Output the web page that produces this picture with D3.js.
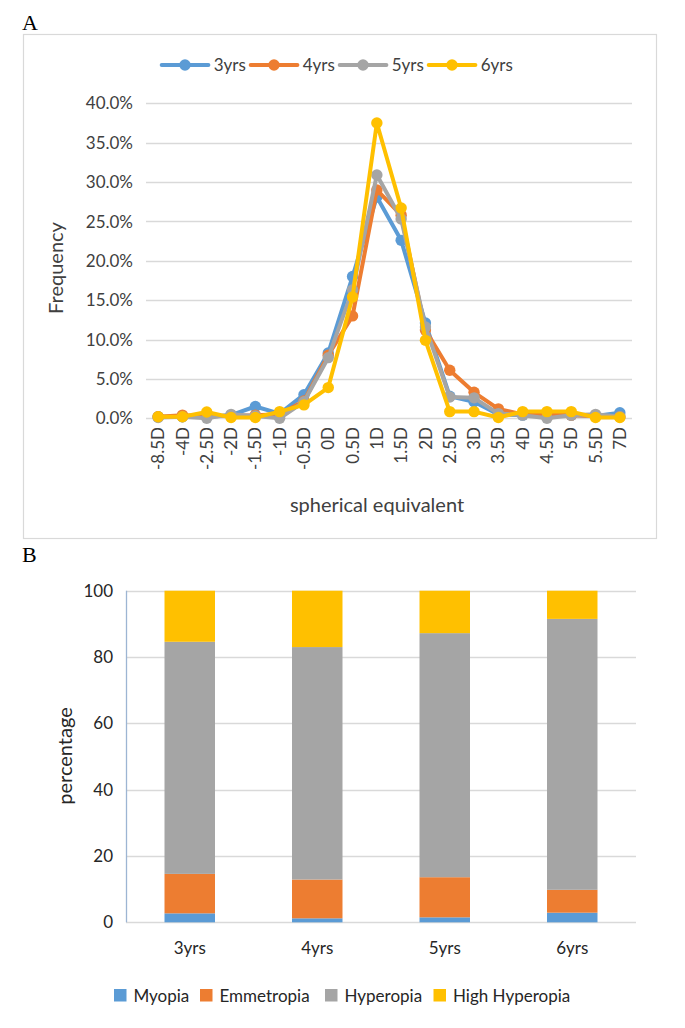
<!DOCTYPE html>
<html>
<head>
<meta charset="utf-8">
<script src="https://cdn.jsdelivr.net/npm/d3@7/dist/d3.min.js"></script>
<style>
  body { margin: 0; background: #fff; }
  svg { display: block; font-family: Lato, "Open Sans", sans-serif; }
</style>
</head>
<body>
<svg id="chart" width="685" height="1028"></svg>
<script>
// ---------- Panel A data ----------
const categoriesA = ["-8.5D","-4D","-2.5D","-2D","-1.5D","-1D","-0.5D","0D","0.5D","1D","1.5D","2D","2.5D","3D","3.5D","4D","4.5D","5D","5.5D","7D"];
const seriesNamesA = ["3yrs","4yrs","5yrs","6yrs"];
const values3yrs = [0.2,0.2,0.2,0.4,1.5,0.6,3.0,8.3,18.0,28.1,22.6,12.1,2.8,2.1,0.5,0.4,0.4,0.4,0.3,0.7];
const values4yrs = [0.2,0.4,0.3,0.3,0.4,0.5,2.2,8.0,13.0,29.0,25.8,11.2,6.1,3.3,1.2,0.5,0.5,0.4,0.3,0.2];
const values5yrs = [0.1,0.2,0.0,0.5,0.3,0.0,2.1,7.7,16.3,30.9,25.3,11.6,2.7,2.6,0.6,0.4,0.0,0.4,0.5,0.2];
const values6yrs = [0.2,0.2,0.8,0.1,0.1,0.85,1.7,3.9,15.4,37.5,26.7,9.9,0.85,0.85,0.1,0.85,0.85,0.85,0.1,0.1];
const yTicksA = [0,5,10,15,20,25,30,35,40];

// ---------- Panel B data ----------
const groupsB = ["3yrs","4yrs","5yrs","6yrs"];
const classNamesB = ["Myopia","Emmetropia","Hyperopia","High Hyperopia"];
const myopia = [2.7,1.2,1.5,2.9];
const emmetropia = [11.9,11.7,12.1,6.9];
const hyperopia = [70.0,70.1,73.6,81.7];
const highHyperopia = [15.4,17.0,12.8,8.5];
const yTicksB = [0,20,40,60,80,100];

const colors = ["#5B9BD5","#ED7D31","#A5A5A5","#FFC000"];
const gridColor = "#D9D9D9";
const textColor = "#404040";

const svg = d3.select("#chart");

// ---------- Panel labels ----------
svg.append("text").attr("x",22).attr("y",30).attr("font-family","'Liberation Serif', 'DejaVu Serif', serif")
  .attr("font-size",22).attr("fill","#000").text("A");
svg.append("text").attr("x",22).attr("y",562).attr("font-family","'Liberation Serif', 'DejaVu Serif', serif")
  .attr("font-size",22).attr("fill","#000").text("B");

// ---------- Panel A ----------
svg.append("rect").attr("x",23.5).attr("y",34.5).attr("width",633).attr("height",504)
  .attr("fill","none").attr("stroke",gridColor).attr("stroke-width",1.2);

const xA = d3.scalePoint().domain(categoriesA).range([146,632]).padding(0.5);
const yA = d3.scaleLinear().domain([0,40]).range([418.3,103.3]);

const gA = svg.append("g");
// gridlines
gA.selectAll("line.grid").data(yTicksA).join("line")
  .attr("x1",146).attr("x2",632)
  .attr("y1",d=>Math.round(yA(d))+0.5).attr("y2",d=>Math.round(yA(d))+0.5)
  .attr("stroke",gridColor).attr("stroke-width",1.3);
// y tick labels
gA.selectAll("text.ytick").data(yTicksA).join("text")
  .attr("x",133).attr("y",d=>yA(d)).attr("dy","0.36em")
  .attr("text-anchor","end").attr("font-size",17).attr("fill",textColor)
  .text(d=>d.toFixed(1)+"%");
// x tick labels (rotated)
gA.selectAll("text.xtick").data(categoriesA).join("text")
  .attr("transform",d=>`translate(${xA(d)},427) rotate(-90)`)
  .attr("dy","0.36em").attr("text-anchor","end")
  .attr("font-size",17).attr("fill",textColor)
  .text(d=>d);
// axis titles
svg.append("text").attr("transform","translate(56,268) rotate(-90)")
  .attr("text-anchor","middle").attr("dy","0.36em").attr("font-size",20).attr("fill",textColor).text("Frequency");
svg.append("text").attr("x",377).attr("y",505).attr("dy","0.36em")
  .attr("text-anchor","middle").attr("font-size",20).attr("fill",textColor).text("spherical equivalent");

const seriesA = [values3yrs, values4yrs, values5yrs, values6yrs];
const line = d3.line().x((d,i)=>xA(categoriesA[i])).y(d=>yA(d));
seriesA.forEach((vals, si) => {
  const g = gA.append("g");
  g.append("path").attr("d", line(vals)).attr("fill","none")
    .attr("stroke",colors[si]).attr("stroke-width",4).attr("stroke-linejoin","round");
  g.selectAll("circle").data(vals).join("circle")
    .attr("cx",(d,i)=>xA(categoriesA[i])).attr("cy",d=>yA(d))
    .attr("r",5.7).attr("fill",colors[si]);
});

// legend A
const legA = svg.append("g");
seriesNamesA.forEach((name, i) => {
  const x0 = 161.7 + 89 * i;
  const y0 = 65;
  legA.append("line").attr("x1",x0).attr("x2",x0+46.7).attr("y1",y0).attr("y2",y0)
    .attr("stroke",colors[i]).attr("stroke-width",4).attr("stroke-linecap","round");
  legA.append("circle").attr("cx",x0+23.3).attr("cy",y0).attr("r",5.7).attr("fill",colors[i]);
  legA.append("text").attr("x",x0+52).attr("y",y0).attr("dy","0.36em")
    .attr("font-size",17).attr("fill",textColor).text(name);
});

// ---------- Panel B ----------
const xB = d3.scaleBand().domain(groupsB).range([126,636]).paddingInner(0.604).paddingOuter(0.302);
const yB = d3.scaleLinear().domain([0,100]).range([922.3,590.7]);
const gB = svg.append("g");

gB.selectAll("line.grid").data(yTicksB).join("line")
  .attr("x1",126).attr("x2",636)
  .attr("y1",d=>Math.round(yB(d))+0.5).attr("y2",d=>Math.round(yB(d))+0.5)
  .attr("stroke",gridColor).attr("stroke-width",1.3);

const tableB = groupsB.map((g,i)=>({group:g, Myopia:myopia[i], Emmetropia:emmetropia[i], Hyperopia:hyperopia[i], "High Hyperopia":highHyperopia[i]}));
const stack = d3.stack().keys(classNamesB)(tableB);
stack.forEach((layer, li) => {
  gB.append("g").selectAll("rect").data(layer).join("rect")
    .attr("x",d=>xB(d.data.group)).attr("width",xB.bandwidth())
    .attr("y",d=>yB(d[1])).attr("height",d=>yB(d[0])-yB(d[1]))
    .attr("fill",colors[li]);
});

// y axis line
gB.append("line").attr("x1",126.5).attr("x2",126.5).attr("y1",590.7).attr("y2",922.3)
  .attr("stroke","#9DB5D3").attr("stroke-width",1.3);

gB.selectAll("text.ytick").data(yTicksB).join("text")
  .attr("x",113).attr("y",d=>yB(d)).attr("dy","0.36em")
  .attr("text-anchor","end").attr("font-size",17).attr("fill","#262626").text(d=>d);
gB.selectAll("text.xtick").data(groupsB).join("text")
  .attr("x",d=>xB(d)+xB.bandwidth()/2).attr("y",948).attr("dy","0.36em")
  .attr("text-anchor","middle").attr("font-size",17).attr("fill","#262626").text(d=>d);

svg.append("text").attr("transform","translate(65,756) rotate(-90)")
  .attr("text-anchor","middle").attr("dy","0.36em").attr("font-size",20).attr("fill","#262626").text("percentage");

// legend B
const legBx = [114, 200, 325, 433.5];
classNamesB.forEach((name, i) => {
  svg.append("rect").attr("x",legBx[i]).attr("y",989).attr("width",12.5).attr("height",12.5).attr("fill",colors[i]);
  svg.append("text").attr("x",legBx[i]+19.5).attr("y",995.5).attr("dy","0.36em")
    .attr("font-size",17).attr("fill","#262626").text(name);
});
</script>
</body>
</html>
